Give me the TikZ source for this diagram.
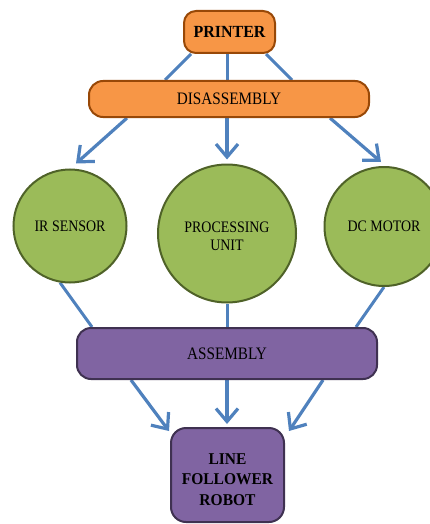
\documentclass[tikz,border=0pt]{standalone}
\usepackage{fontspec}
\setmainfont{Liberation Serif}
\newfontfamily\narrowserif[FakeStretch=0.87]{Liberation Serif}
\newfontfamily\boldserif[FakeStretch=0.94]{Liberation Serif}
\usetikzlibrary{arrows.meta,positioning,backgrounds}
\definecolor{orngfill}{RGB}{247,150,70}
\definecolor{orngline}{RGB}{152,72,7}
\definecolor{grnfill}{RGB}{155,187,89}
\definecolor{grnline}{RGB}{79,98,40}
\definecolor{purpfill}{RGB}{128,100,162}
\definecolor{purpline}{RGB}{63,49,81}
\definecolor{flowblue}{RGB}{79,129,189}

\begin{document}
\begin{tikzpicture}[
    x=1pt, y=-1pt, >={Straight Barb[length=13pt,width=22pt]}, line cap=round,
    stage/.style ={draw=orngline, fill=orngfill, line width=2pt, inner sep=0pt},
    part/.style  ={circle, draw=grnline, fill=grnfill, line width=2pt, inner sep=0pt, align=center,
                   font=\narrowserif\fontsize{16}{17.6}\selectfont},
    build/.style ={draw=purpline, fill=purpfill, line width=2pt, inner sep=0pt, align=center},
    link/.style  ={draw=flowblue, line width=3pt},
    flow/.style  ={draw=flowblue, line width=3.2pt, ->}
]
\useasboundingbox (0,0) rectangle (430,524);
\clip (0,0) rectangle (430,524);

% orange stages
\node[stage, minimum width=91pt, minimum height=42pt, rounded corners=12pt,
      font=\boldserif\bfseries\fontsize{17}{19}\selectfont] (printer) at (229.5,32) {PRINTER};
\node[stage, minimum width=280pt, minimum height=36pt, rounded corners=14pt,
      font=\narrowserif\fontsize{17.5}{19}\selectfont] (disasm) at (229,99) {DISASSEMBLY};

% green parts
\node[part, minimum size=113pt] (ir) at (70,226) {IR SENSOR};
\node[part, minimum size=138pt] (proc) at (227,233.5) {\rule{0pt}{16pt}PROCESSING\\UNIT};
\node[part, minimum size=119pt] (dc) at (384,226.5) {DC MOTOR};

% purple assembly and result
\node[build, minimum width=300pt, minimum height=51pt, rounded corners=14pt,
      font=\narrowserif\fontsize{17.5}{19}\selectfont] (asm) at (227,353.5) {ASSEMBLY};
\node[build, minimum width=113pt, minimum height=94pt, rounded corners=15pt,
      font=\boldserif\bfseries\fontsize{16.5}{20.5}\selectfont] (robot) at (227.5,475)
      {\rule{0pt}{19.5pt}LINE\\FOLLOWER\\ROBOT};

\begin{scope}[on background layer]
% printer to disassembly
\draw[link] ([xshift=8pt]printer.south west) -- ([xshift=-64pt]disasm.north);
\draw[link] (printer.south -| proc.north) -- (disasm.north -| proc.north);
\draw[link] ([xshift=-10pt]printer.south east) -- ([xshift=63pt]disasm.north);

% disassembly to parts
\draw[flow] ([xshift=-102pt]disasm.south) -- ([xshift=6pt,yshift=5pt]ir.north);
\draw[flow] (disasm.south -| proc.north) -- ([yshift=4pt]proc.north);
\draw[flow] ([xshift=101pt]disasm.south) -- ([xshift=-3pt,yshift=4pt]dc.north);

% parts to assembly
\draw[link] (ir.260) -- ([xshift=16pt]asm.north west);
\draw[link] (proc.south) -- (proc.south |- asm.north);
\draw[link] (dc.south) -- ([xshift=-22pt]asm.north east);

% assembly to robot
\draw[flow] ([xshift=55pt]asm.south west) -- ([xshift=-1pt,yshift=-4pt]robot.north west);
\draw[flow] (asm.south -| proc.south) -- ([yshift=3pt]robot.north -| proc.south);
\draw[flow] ([xshift=-55pt]asm.south east) -- ([xshift=4pt,yshift=-4pt]robot.north east);
\end{scope}
\end{tikzpicture}
\end{document}
